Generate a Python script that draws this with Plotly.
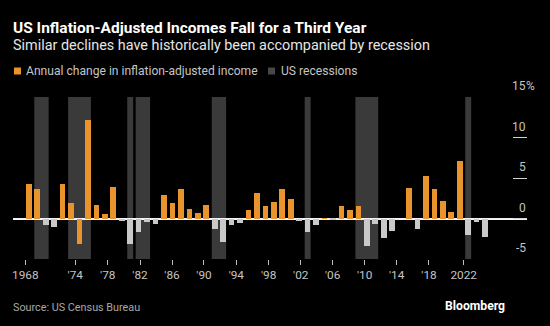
import plotly.graph_objects as go

# ---------------- data ----------------
years = list(range(1968, 2023))
changes = [
    4.25, 3.7, -0.8, -1.0, 4.25, 1.95, -3.2, 12.1, 1.65, 0.5,   # 1968-1977
    3.85, -0.25, -3.15, -1.7, -0.37, -0.65, 2.95, 1.9, 3.7, 1.15,  # 1978-1987
    0.65, 1.65, -1.25, -2.95, -0.8, -0.5, 1.05, 3.15, 1.5, 2.05,   # 1988-1997
    3.7, 2.45, -0.33, -1.7, -0.8, 0.05, -0.15, 1.55, 1.05, 1.6,    # 1998-2007
    -3.45, -0.65, -2.4, -1.5, 0.0, 3.75, -1.3, 5.3, 3.6, 2.2,      # 2008-2017
    0.85, 7.05, -2.05, -0.4, -2.3,                                 # 2018-2022
]
highlight_negative_years = [1974]   # negative year still drawn in the income colour
recessions = [(1969, 1970), (1973, 1975), (1980, 1980), (1981, 1982),
              (1990, 1991), (2001, 2001), (2007, 2009), (2020, 2020)]
x_tick_labels = ["1968", "'74", "'78", "'82", "'86", "'90", "'94", "'98",
                 "'02", "'06", "'10", "'14", "'18", "2022"]
y_ticks = [-5, 0, 5, 10, 15]

title = "US Inflation-Adjusted Incomes Fall for a Third Year"
subtitle = "Similar declines have historically been accompanied by recession"
legend_income = "Annual change in inflation-adjusted income"
legend_recess = "US recessions"
source = "Source: US Census Bureau"

# ---------------- layout geometry ----------------
W, H = 550, 326
L, R, T, B = 13, 23, 97, 67
PW, PH = W - L - R, H - T - B

# axis scale (bar pitch 8.45 px per year, 1968 bar centred at 28.8 px)
x_range = [1968 + (L - 28.8) / 8.45, 1968 + (W - R - 28.8) / 8.45]
# tick marks sit where the reference draws them
x_tick_pos = [1967.59, 1973.50, 1977.34, 1981.16, 1984.95, 1988.73, 1992.56,
              1996.39, 2000.18, 2003.96, 2007.75, 2011.54, 2015.36, 2019.47]

ORANGE = "#E8932C"
GREY_BAR = "#C9C9C9"
SHADE = "#3A3A3A"
TXT = "#C4C4C4"
FONT = "Roboto, sans-serif"


def px_x(p):
    return (p - L) / PW


def px_y(p):
    return (H - B - p) / PH


colors = [ORANGE if (v > 0 or y in highlight_negative_years) else GREY_BAR
          for y, v in zip(years, changes)]

fig = go.Figure()
fig.add_trace(go.Bar(x=years, y=changes, marker_color=colors, marker_line_width=0,
                     width=0.67, showlegend=False))

shapes = []
for s, e in recessions:
    shapes.append(dict(type="rect", xref="x", yref="y", x0=s - 0.35, x1=e + 0.35,
                       y0=y_ticks[0], y1=y_ticks[-1], fillcolor=SHADE,
                       line_width=0, layer="below"))

# legend swatches
shapes.append(dict(type="rect", xref="paper", yref="paper", x0=px_x(14), x1=px_x(21),
                   y0=px_y(74.5), y1=px_y(67.5), fillcolor=ORANGE, line_width=0))
shapes.append(dict(type="rect", xref="paper", yref="paper", x0=px_x(268), x1=px_x(275),
                   y0=px_y(74.5), y1=px_y(67.5), fillcolor="#474747", line_width=0))

ann = []
ann.append(dict(text="<b>" + title + "</b>", x=px_x(11), y=px_y(27.5), xref="paper",
                yref="paper", xanchor="left", yanchor="middle", showarrow=False,
                font=dict(family=FONT, size=15.5, color="white")))
ann.append(dict(text=subtitle, x=px_x(11), y=px_y(46), xref="paper",
                yref="paper", xanchor="left", yanchor="middle", showarrow=False,
                font=dict(family=FONT, size=14.4, color="#E6E6E6")))
ann.append(dict(text=legend_income, x=px_x(24), y=px_y(71), xref="paper",
                yref="paper", xanchor="left", yanchor="middle", showarrow=False,
                font=dict(family=FONT, size=12.1, color=TXT)))
ann.append(dict(text=legend_recess, x=px_x(279), y=px_y(71), xref="paper",
                yref="paper", xanchor="left", yanchor="middle", showarrow=False,
                font=dict(family=FONT, size=12.1, color=TXT)))
ann.append(dict(text=source, x=px_x(11), y=px_y(307.5), xref="paper",
                yref="paper", xanchor="left", yanchor="middle", showarrow=False,
                font=dict(family=FONT, size=10.8, color="#A8A8A8")))
ann.append(dict(text="<b>Bloomberg</b>", x=px_x(507), y=px_y(306), xref="paper",
                yref="paper", xanchor="right", yanchor="middle", showarrow=False,
                font=dict(family=FONT, size=12.2, color="white")))
for v in y_ticks:
    ann.append(dict(text=str(v), x=1, y=v, xref="paper", yref="y", xanchor="right",
                    yanchor="middle", xshift=1, yshift=11, showarrow=False,
                    font=dict(family=FONT, size=12, color=TXT)))
ann.append(dict(text="%", x=1, y=y_ticks[-1], xref="paper", yref="y", xanchor="left",
                yanchor="middle", xshift=-3, yshift=11, showarrow=False,
                font=dict(family=FONT, size=12, color=TXT)))

fig.update_layout(
    width=W, height=H, margin=dict(l=L, r=R, t=T, b=B, pad=0),
    paper_bgcolor="black", plot_bgcolor="black",
    shapes=shapes, annotations=ann, bargap=0, showlegend=False,
    xaxis=dict(range=x_range, tickvals=x_tick_pos, ticktext=x_tick_labels,
               showgrid=False, zeroline=False, showline=False,
               ticks="outside", ticklen=5, tickwidth=1, tickcolor="#BDBDBD",
               tickfont=dict(family=FONT, size=11.8, color=TXT)),
    yaxis=dict(range=[y_ticks[0], y_ticks[-1]], tickvals=y_ticks, side="right",
               showgrid=False, showticklabels=False, showline=False,
               ticks="inside", ticklen=14, tickwidth=1, tickcolor="#D0D0D0",
               zeroline=True, zerolinecolor="#F2F2F2", zerolinewidth=1.6),
)

fig.write_html("out.html")
